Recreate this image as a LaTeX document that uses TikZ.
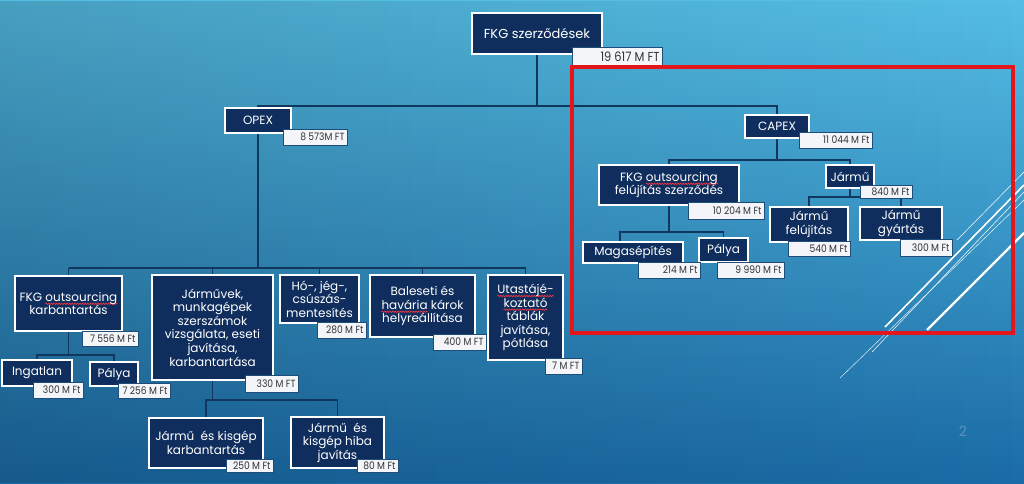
\documentclass[tikz,border=0pt]{standalone}
\usepackage{fontspec}
\setmainfont{Poppins}
\newfontfamily\valfont[FakeStretch=0.88]{Poppins}
\usetikzlibrary{fadings,decorations.pathmorphing}
\definecolor{navy}{HTML}{0F2E5E}
\definecolor{valfill}{HTML}{F3F5F8}
\definecolor{valdraw}{HTML}{1E4D7B}
\definecolor{valtext}{HTML}{333333}
\definecolor{bgtop}{HTML}{55BEE5}
\definecolor{bgbot}{HTML}{1A6BA6}
\definecolor{lineblue}{HTML}{12375F}
\definecolor{redframe}{HTML}{E3161B}
\definecolor{wavyred}{HTML}{EE3540}
\definecolor{pagecol}{HTML}{5E93BE}
\newlength\wvlen
\newcommand\wv[1]{\settowidth\wvlen{#1}\rlap{\tikz[overlay,baseline=0pt]\draw[wavyred,line width=.7pt,decorate,decoration={snake,amplitude=.7pt,segment length=2.6pt}] (0pt,-2.6pt) -- (\wvlen,-2.6pt);}#1}
\tikzset{
  mainbox/.style={draw=white, line width=1.3pt, fill=navy, text=white, align=center, inner sep=1pt,
    font=\fontsize{12}{13.6}\selectfont},
  valbox/.style={draw=valdraw, line width=.8pt, fill=valfill, text=valtext, inner sep=0pt,
    font=\valfont\fontsize{10.4}{11}\selectfont},
  conn/.style={draw=lineblue, line width=1.1pt},
  pagenum/.style={text=pagecol, font=\fontsize{14}{16}\selectfont},
  deco/.style={draw=white},
}
\newcommand\MBox[6]{\node[mainbox,minimum width={#4-#2},minimum height={#5-#3}] (#1) at ({(#2+#4)/2},{(#3+#5)/2}) {#6};}
\newcommand\VBox[6]{\pgfmathsetmacro\vbtw{#4-#2-5}\node[valbox,minimum width={#4-#2},minimum height={#5-#3}] (#1) at ({(#2+#4)/2},{(#3+#5)/2}) {\makebox[\vbtw pt][r]{#6}\hspace{1pt}};}
\newcommand\AllBoxes{%
\MBox{fkg}{472}{13}{602}{54}{\fontsize{13}{15}\selectfont FKG szerződések}
\MBox{opex}{225}{108}{291}{133}{OPEX}
\MBox{capex}{745}{115}{809}{138}{CAPEX}
\MBox{okarb}{15}{276}{122}{331}{FKG \wv{outsourcing}\\karbantartás}
\MBox{jmv}{152}{275}{273}{380}{Járművek,\\munkagépek\\szerszámok\\vizsgálata, eseti\\javítása,\\karbantartása}
\MBox{ho}{280}{275}{359}{323}{Hó-, jég-,\\csúszás-\\mentesítés}
\MBox{bal}{370}{275}{475}{337}{Baleseti és\\\wv{havária} károk\\helyreállítása}
\MBox{uta}{488}{275}{563}{360}{\wv{Utastájé-}\\\wv{koztató}\\táblák\\javítása,\\pótlása}
\MBox{ing}{2}{360}{72}{386}{Ingatlan}
\MBox{palo}{90}{362}{138}{386}{Pálya}
\MBox{jk}{149}{418}{263}{468}{Jármű\ \ és kisgép\\karbantartás}
\MBox{jh}{291}{417}{384}{468}{Jármű\ \ és\\kisgép hiba\\javítás}
\MBox{ofel}{599}{165}{739}{205}{FKG \wv{outsourcing}\\felújítás szerződés}
\MBox{jar}{826}{165}{874}{188}{Jármű}
\MBox{mag}{583}{242}{683}{263}{Magasépítés}
\MBox{palc}{699}{238}{748}{262}{Pálya}
\MBox{jfel}{770}{207}{848}{242}{Jármű\\felújítás}
\MBox{jgy}{860}{207}{942}{240}{Jármű\\gyártás}}
\begin{document}
\begin{tikzpicture}[x=1pt,y=-1pt]
\useasboundingbox (0,0) rectangle (1024,483);
\shade[top color=bgtop, bottom color=bgbot] (0,0) rectangle (1024,483);
\fill[black, opacity=.16, path fading=east] (0,0) rectangle (1024,483);

% bus coordinates
\coordinate (b0) at (0,106);
\coordinate (bop) at (0,268);
\coordinate (bok) at (0,355);
\coordinate (bjm) at (0,400);
\coordinate (bcx) at (0,160);
\coordinate (bof) at (0,232);
\coordinate (bja) at (0,197);

% first pass: place the boxes so they can be referenced
\AllBoxes

% ---------- connectors ----------
\draw[conn] (fkg.south) -- (fkg.south |- b0);
\draw[conn] (opex.north) |- (capex.north |- b0) -- (capex.north);

\draw[conn] (opex.south) -- (opex.south |- bop);
\draw[conn] (okarb.north |- bop) -- (uta.north |- bop);
\foreach \c in {okarb,jmv,ho,bal,uta} \draw[conn] (\c.north) -- (\c.north |- bop);

\draw[conn] (okarb.south) -- (okarb.south |- bok);
\draw[conn] (ing.north) |- (palo.north |- bok) -- (palo.north);

\draw[conn] (jmv.south) -- (jmv.south |- bjm);
\draw[conn] (jk.north) |- (jh.north |- bjm) -- (jh.north);

\draw[conn] (capex.south) -- (capex.south |- bcx);
\draw[conn] (ofel.north) |- (jar.north |- bcx) -- (jar.north);

\draw[conn] (ofel.south) -- (ofel.south |- bof);
\draw[conn] ([xshift=-13pt]mag.north) |- (palc.north |- bof) -- (palc.north);

\draw[conn] (jar.south) -- (jar.south |- bja);
\draw[conn] (jfel.north) |- (jgy.north |- bja) -- (jgy.north);

% second pass: boxes on top of the connectors
\AllBoxes

% ---------- value labels ----------
\VBox{v0}{572}{47}{662}{66}{\fontsize{13}{14}\selectfont 19 617 M FT}
\VBox{vopex}{283}{129}{347}{145}{8 573M FT}
\VBox{vcapex}{799}{132}{872}{148}{11 044 M Ft}
\VBox{vokarb}{82}{331}{138}{346}{7 556 M Ft}
\VBox{vjmv}{245}{375}{298}{392}{330 M FT}
\VBox{vho}{317}{322}{366}{338}{280 M Ft}
\VBox{vbal}{433}{334}{486}{350}{400 M FT}
\VBox{vuta}{545}{358}{582}{374}{7 M FT}
\VBox{ving}{33}{382}{83}{398}{300 M Ft}
\VBox{vpalo}{118}{383}{170}{398}{7 256 M Ft}
\VBox{vjk}{226}{459}{273}{472}{250 M Ft}
\VBox{vjh}{357}{459}{398}{472}{80 M Ft}
\VBox{vofel}{688}{202}{764}{219}{10 204 M Ft}
\VBox{vjar}{860}{185}{912}{198}{840 M Ft}
\VBox{vmag}{638}{262}{700}{278}{214 M Ft}
\VBox{vpalc}{717}{262}{784}{278}{9 990 M Ft}
\VBox{vjfel}{788}{241}{850}{256}{540 M Ft}
\VBox{vjgy}{900}{239}{952}{256}{300 M Ft}

% ---------- decorations ----------
\draw[deco, line width=.5pt] (1024,172) -- (957,240);
\draw[deco, line width=1.6pt] (1024,185) -- (885,327);
\draw[deco, line width=.5pt] (1024,192) -- (872,352);
\draw[deco, line width=.4pt] (1024,200) -- (840,378);
\draw[deco, line width=2.2pt] (1024,233) -- (927,330);

\draw[draw=redframe, line width=3.5pt] (572,67) rectangle (1013,333);

\node[pagenum] (pg) at (963,431) {2};
\end{tikzpicture}
\end{document}
